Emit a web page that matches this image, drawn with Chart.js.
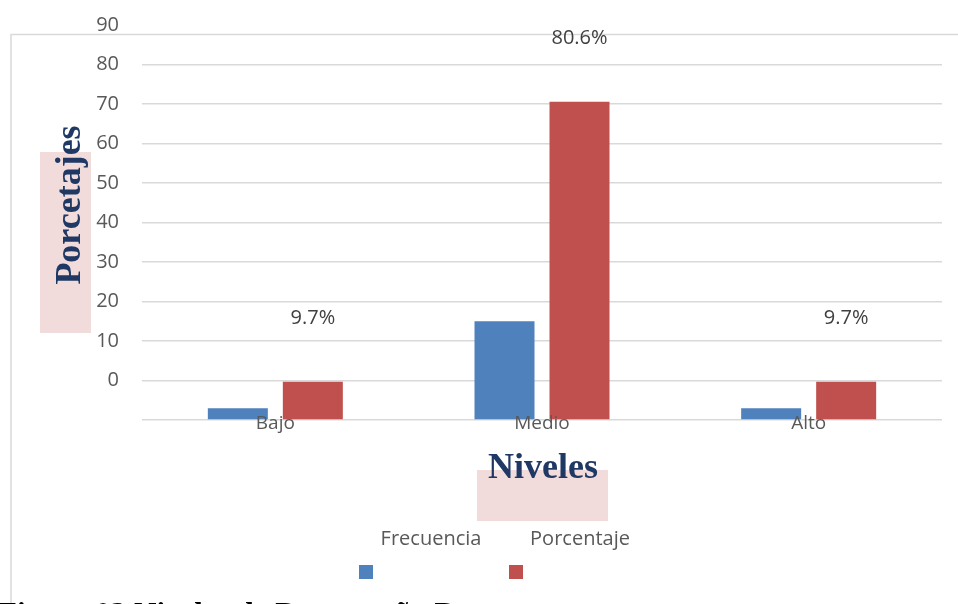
<!DOCTYPE html>
<html><head><meta charset="utf-8">
<script src="https://cdn.jsdelivr.net/npm/chart.js@4/dist/chart.umd.min.js"></script>
<style>html,body{margin:0;padding:0;background:#fff;overflow:hidden}#wrap{position:relative;width:958px;height:604px}</style>
</head><body><div id="wrap"><canvas id="c" width="958" height="604"></canvas></div>
<script>
const categories = ['Bajo', 'Medio', 'Alto'];
const seriesNames = ['Frecuencia', 'Porcentaje'];
const frecuencia = [3, 25, 3];
const porcentaje = [9.7, 80.6, 9.7];
const yTickValues = [0, 10, 20, 30, 40, 50, 60, 70, 80, 90, 100];
const yTickLabels = ['', '0', '10', '20', '30', '40', '50', '60', '70', '80', '90'];
const yTitle = 'Porcetajes';
const xTitle = 'Niveles';
const caption = 'Figura 02 Niveles de Desempeño Docente';
const seriesColors = ['#4F81BD', '#C0504D'];

const TXT = '#595959';
const SANS = '"Open Sans", "Noto Sans", sans-serif';
const SERIF = '"Liberation Serif", "DejaVu Serif", serif';

const decor = {
  id: 'decor',
  beforeDraw(chart) {
    const ctx = chart.ctx;
    ctx.save();
    ctx.fillStyle = '#fff';
    ctx.fillRect(0, 0, chart.width, chart.height);
    ctx.strokeStyle = '#d9d9d9';
    ctx.lineWidth = 1.5;
    ctx.beginPath();
    ctx.moveTo(958, 34.5); ctx.lineTo(11, 34.5); ctx.lineTo(11, 604);
    ctx.stroke();
    ctx.fillStyle = '#F2DCDB';
    ctx.fillRect(40, 152, 51, 181);
    ctx.fillRect(477, 470, 131, 51);
    ctx.restore();
  },
  afterDatasetsDraw(chart) {
    const ctx = chart.ctx;
    ctx.save();
    const xs = chart.scales.x;
    ctx.font = '19px ' + SANS;
    ctx.fillStyle = TXT;
    ctx.textAlign = 'center';
    ctx.textBaseline = 'middle';
    categories.forEach((c, i) => {
      ctx.fillText(c, xs.getPixelForValue(i), chart.chartArea.bottom + 4);
    });
    const meta = chart.getDatasetMeta(1);
    ctx.font = '20px ' + SANS;
    ctx.fillStyle = '#404040';
    meta.data.forEach((el, i) => {
      ctx.fillText(porcentaje[i].toFixed(1) + '%', el.x, el.y - 63);
    });
    ctx.restore();
  },
  afterDraw(chart) {
    const ctx = chart.ctx;
    ctx.save();
    ctx.fillStyle = '#1F3864';
    ctx.font = 'bold 36px ' + SERIF;
    ctx.textAlign = 'center';
    ctx.textBaseline = 'alphabetic';
    ctx.save();
    ctx.translate(80, 205);
    ctx.rotate(-Math.PI / 2);
    ctx.fillText(yTitle, 0, 0);
    ctx.restore();
    ctx.fillText(xTitle, 543, 478);
    const legX = [431, 580];
    const boxX = [359, 509];
    ctx.font = '20px ' + SANS;
    ctx.textBaseline = 'middle';
    seriesNames.forEach((n, i) => {
      ctx.fillStyle = TXT;
      ctx.fillText(n, legX[i], 539);
      ctx.fillStyle = seriesColors[i];
      ctx.fillRect(boxX[i], 565, 14, 14);
    });
    ctx.fillStyle = '#000';
    ctx.font = 'bold 31px ' + SERIF;
    ctx.textAlign = 'left';
    ctx.textBaseline = 'alphabetic';
    ctx.fillText(caption, -2, 624);
    ctx.restore();
  }
};

new Chart(document.getElementById('c'), {
  type: 'bar',
  data: {
    labels: categories,
    datasets: [
      { label: seriesNames[0], data: frecuencia, backgroundColor: seriesColors[0], categoryPercentage: 0.5625, barPercentage: 0.8 },
      { label: seriesNames[1], data: porcentaje, backgroundColor: seriesColors[1], categoryPercentage: 0.5625, barPercentage: 0.8 }
    ]
  },
  options: {
    responsive: false,
    animation: false,
    devicePixelRatio: 1,
    layout: { padding: { left: 0, right: 16, top: 25, bottom: 0 } },
    plugins: { legend: { display: false }, tooltip: { enabled: false } },
    scales: {
      x: {
        grid: { display: false, drawTicks: false },
        border: { display: false },
        ticks: { display: false },
        afterFit(s) { s.height = 184; }
      },
      y: {
        min: 0, max: 100,
        ticks: {
          stepSize: 10, color: TXT, font: { family: SANS, size: 20 }, padding: 0,
          callback: (v) => yTickLabels[yTickValues.indexOf(v)]
        },
        grid: {
          drawTicks: true, tickLength: 23, tickColor: 'rgba(0,0,0,0)', lineWidth: 1.5,
          color: (c) => (c.tick && c.tick.value === 100) ? 'rgba(0,0,0,0)' : '#d9d9d9'
        },
        border: { display: false },
        afterFit(s) { s.width = 142; }
      }
    }
  },
  plugins: [decor]
});
</script>
</body></html>
